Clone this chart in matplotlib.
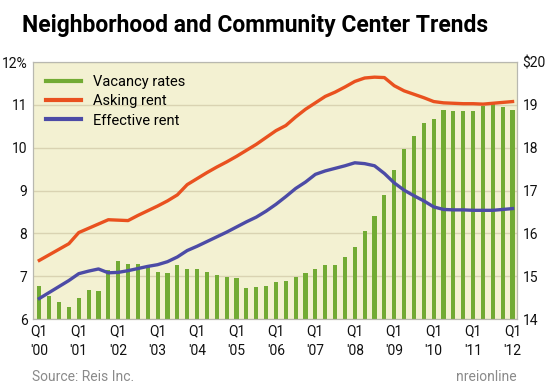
import matplotlib.pyplot as plt
import numpy as np

# quarterly data, Q1 2000 .. Q1 2012
vacancy = [6.77, 6.55, 6.40, 6.28, 6.49, 6.68, 6.65, 7.14, 7.35, 7.29,
           7.28, 7.22, 7.09, 7.08, 7.26, 7.18, 7.18, 7.11, 7.02, 6.98,
           6.97, 6.72, 6.75, 6.78, 6.86, 6.88, 6.98, 7.08, 7.17, 7.26,
           7.26, 7.45, 7.68, 8.06, 8.40, 8.90, 9.49, 9.97, 10.27, 10.57,
           10.67, 10.88, 10.86, 10.85, 10.86, 10.98, 11.02, 10.96, 10.89]
asking = [15.37, 15.50, 15.63, 15.76, 16.02, 16.12, 16.22, 16.32, 16.31, 16.30,
          16.42, 16.53, 16.64, 16.76, 16.90, 17.14, 17.28, 17.42, 17.55, 17.67,
          17.80, 17.94, 18.08, 18.24, 18.40, 18.52, 18.72, 18.90, 19.05, 19.20,
          19.30, 19.42, 19.55, 19.63, 19.65, 19.64, 19.45, 19.33, 19.25, 19.17,
          19.08, 19.05, 19.04, 19.03, 19.03, 19.02, 19.04, 19.06, 19.08]
effective = [14.48, 14.62, 14.76, 14.90, 15.06, 15.12, 15.17, 15.08, 15.09, 15.13,
             15.18, 15.23, 15.27, 15.34, 15.45, 15.60, 15.70, 15.81, 15.92, 16.03,
             16.15, 16.27, 16.38, 16.52, 16.68, 16.86, 17.05, 17.20, 17.38, 17.46,
             17.52, 17.58, 17.65, 17.63, 17.58, 17.40, 17.18, 17.01, 16.88, 16.76,
             16.62, 16.56, 16.55, 16.55, 16.54, 16.54, 16.54, 16.56, 16.58]
years = ["'00", "'01", "'02", "'03", "'04", "'05", "'06",
         "'07", "'08", "'09", "'10", "'11", "'12"]
left_ticks = ['6', '7', '8', '9', '10', '11', '12%']
right_ticks = ['14', '15', '16', '17', '18', '19', '$20']

GREEN = '#72ab34'
ORANGE = '#e9511f'
BLUE = '#4c4ba6'
BG = '#f3f1d2'
GRID = '#d9d3b2'

plt.rcParams['font.family'] = ['Roboto', 'DejaVu Sans']

fig = plt.figure(figsize=(5.5, 3.91), dpi=100)
ax = fig.add_axes([0.06, 0.184, 0.88, 0.657])
ax2 = ax.twinx()

x = np.arange(len(vacancy))
ax.set_facecolor(BG)
ax.bar(x, vacancy, width=0.42, color=GREEN, zorder=2)
ax.set_ylim(6, 12)
ax.set_xlim(-0.64, 48.45)
ax.set_yticks(range(6, 13))
ax.set_yticklabels(left_ticks)
ax.yaxis.grid(True, color=GRID, linewidth=1.0, zorder=0)
ax.set_axisbelow(True)

ax2.plot(x, asking, color=ORANGE, linewidth=2.4, zorder=3)
ax2.plot(x, effective, color=BLUE, linewidth=2.4, zorder=3)
ax2.set_ylim(14, 20)
ax2.set_yticks(range(14, 21))
ax2.set_yticklabels(right_ticks)

ax.set_xticks(x[::4])
ax.set_xticklabels(['Q1\n' + y for y in years], linespacing=1.45)

for a in (ax, ax2):
    for s in a.spines.values():
        s.set_color('#b8b8b0')
        s.set_linewidth(0.8)
    a.tick_params(length=0, labelsize=10, colors='#111111', pad=4)
ax.tick_params(axis='x', pad=4)

handles = [plt.Line2D([], [], color=GREEN, linewidth=3),
           plt.Line2D([], [], color=ORANGE, linewidth=3),
           plt.Line2D([], [], color=BLUE, linewidth=3)]
ax.legend(handles, ['Vacancy rates', 'Asking rent', 'Effective rent'],
          loc='upper left', frameon=False, fontsize=10.5, handlelength=2.4,
          labelspacing=0.35, borderaxespad=0.5)

fig.text(0.463, 0.935, 'Neighborhood and Community Center Trends',
         ha='center', va='center', fontsize=16.5, fontweight='bold')
fig.text(0.058, 0.036, 'Source: Reis Inc.', ha='left', va='center',
         fontsize=10, color='#8a8a8a')
fig.text(0.94, 0.036, 'nreionline', ha='right', va='center',
         fontsize=10, color='#8a8a8a')

fig.savefig('out.png', dpi=100)
